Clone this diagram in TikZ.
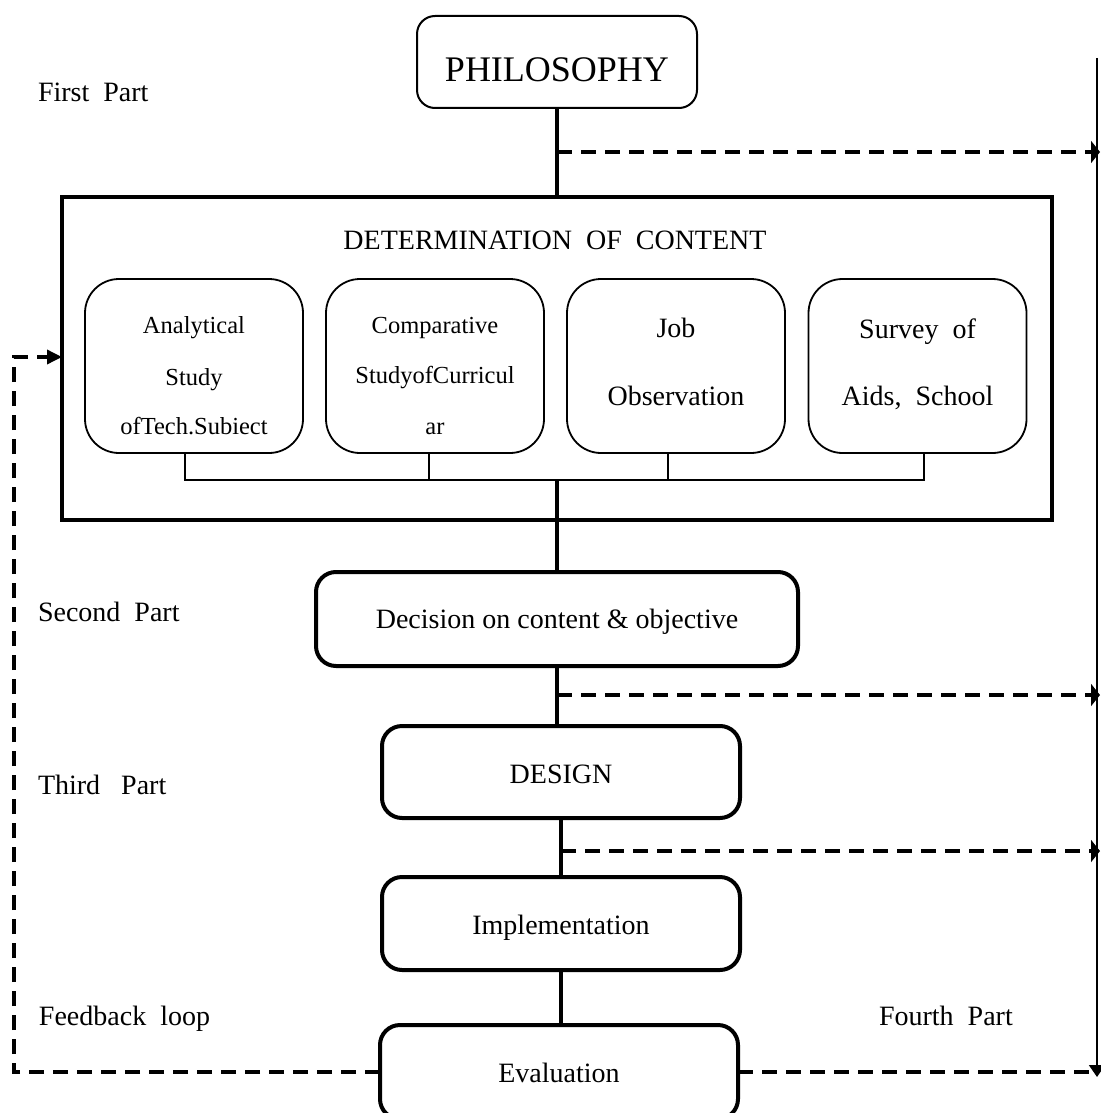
\documentclass[tikz,border=0pt]{standalone}
\usepackage{fontspec}
\setmainfont{Liberation Serif}
\usetikzlibrary{arrows.meta,calc}
\begin{document}
\begin{tikzpicture}[x=0.5pt,y=-0.5pt,
  every node/.style={inner sep=0pt,outer sep=0pt},
  bigtxt/.style={font=\fontsize{14}{16}\selectfont},
  smalltxt/.style={font=\fontsize{12.25}{14}\selectfont},
  phtxt/.style={font=\fontsize{18}{20}\selectfont},
  stepbox/.style={draw,line width=2pt,rounded corners=10pt},
  subbox/.style={draw,line width=0.9pt,rounded corners=17pt,minimum width=109pt,minimum height=87pt},
  spine/.style={line width=1.75pt},
  thinline/.style={line width=0.8pt},
  fbdash/.style={line width=1.75pt,dash pattern=on 7.5pt off 4.5pt},
  rarrow/.style={-{Triangle[length=4.5pt,width=11pt]},shorten >=-1.5pt}
]
\useasboundingbox (0,0) rectangle (1100,1113);

% top box
\node[draw,line width=1pt,rounded corners=9pt,minimum width=140pt,minimum height=46pt] (phil) at (557,62) {};
\node[phtxt,anchor=base] (philt) at (557,82) {PHILOSOPHY};

% determination box
\node[draw,line width=2pt,minimum width=495pt,minimum height=161.5pt] (det) at (557,358.5) {};
\node[bigtxt,anchor=base] (dett) at (555,249) {DETERMINATION\ \ OF\ \ CONTENT};

\node[subbox] (b1) at (194,366) {};
\node[subbox] (b2) at (435,366) {};
\node[subbox] (b3) at (676,366) {};
\node[subbox] (b4) at (917.5,366) {};

\node[smalltxt,anchor=base] (b1a) at (194,333) {Analytical};
\node[smalltxt,anchor=base] (b1b) at (194,385) {Study};
\node[smalltxt,anchor=base] (b1c) at (194,434) {ofTech.Subiect};
\node[smalltxt,anchor=base] (b2a) at (435,333) {Comparative};
\node[smalltxt,anchor=base] (b2b) at (435,383) {StudyofCurricul};
\node[smalltxt,anchor=base] (b2c) at (435,434) {ar};
\node[bigtxt,anchor=base] (b3a) at (676,337) {Job};
\node[bigtxt,anchor=base] (b3b) at (676,405) {Observation};
\node[bigtxt,anchor=base] (b4a) at (917.5,338) {Survey\ \ of};
\node[bigtxt,anchor=base] (b4b) at (917.5,405) {Aids,\ \ School};

% lower boxes
\node[stepbox,minimum width=241pt,minimum height=47pt] (dec) at (557,619) {};
\node[bigtxt,anchor=base] (dect) at (557,628) {Decision on content \& objective};
\node[stepbox,minimum width=179pt,minimum height=46pt] (des) at (561,772) {};
\node[bigtxt,anchor=base] (dest) at (561,783) {DESIGN};
\node[stepbox,minimum width=179pt,minimum height=46.5pt] (imp) at (561,923.5) {};
\node[bigtxt,anchor=base] (impt) at (561,934) {Implementation};
\node[stepbox,minimum width=179pt,minimum height=47pt] (eva) at (559,1072) {};
\node[bigtxt,anchor=base] (evat) at (559,1082) {Evaluation};

% side labels
\node[bigtxt,anchor=base west] (l1) at (38,102) {First\ \ Part};
\node[bigtxt,anchor=base west] (l2) at (38,621) {Second\ \ Part};
\node[bigtxt,anchor=base west] (l3) at (38,794) {Third\ \ \ Part};
\node[bigtxt,anchor=base west] (l4) at (39,1025) {Feedback\ \ loop};
\node[bigtxt,anchor=base west] (l5) at (879,1025) {Fourth\ \ Part};

% bar under sub-boxes
\coordinate (bar1) at (185,480);
\coordinate (bar2) at (429,480);
\coordinate (bar3) at (668,480);
\coordinate (bar4) at (924,480);
\coordinate (barc) at (557,480);
\draw[thinline] (b1.south -| bar1) -- (bar1) -- (bar4) -- (b4.south -| bar4);
\draw[thinline] (b2.south -| bar2) -- (bar2);
\draw[thinline] (b3.south -| bar3) -- (bar3);

% spine
\draw[spine] (phil.south) -- (phil.south |- det.north);
\draw[spine] (barc) -- (dec.north);
\draw[spine] (dec.south) -- (dec.south |- des.north);
\draw[spine] (des.south) -- (des.south |- imp.north);
\draw[spine] (imp.south) -- (imp.south |- eva.north);

% right line and branches
\coordinate (j1) at (557,152);
\coordinate (j2) at (557,695);
\coordinate (j3) at (561,851);
\coordinate (rtop) at (1097,58);
\coordinate (rbot) at (1097,1077);
\draw[line width=1pt,-{Triangle[length=6pt,width=8pt]}] (rtop) -- (rbot);
\draw[fbdash,rarrow] (j1) -- (j1 -| rtop);
\draw[fbdash,rarrow] (j2) -- (j2 -| rtop);
\draw[fbdash,rarrow] (j3) -- (j3 -| rtop);
\draw[fbdash] (eva.east) -- (eva.east -| rtop);

% feedback loop
\coordinate (fb1) at (14,1072);
\coordinate (fb2) at (14,357);
\draw[fbdash,-{Triangle[length=7.5pt,width=7pt]}] (eva.west) -- (fb1) -- (fb2) -- (fb2 -| det.west);
\end{tikzpicture}
\end{document}
